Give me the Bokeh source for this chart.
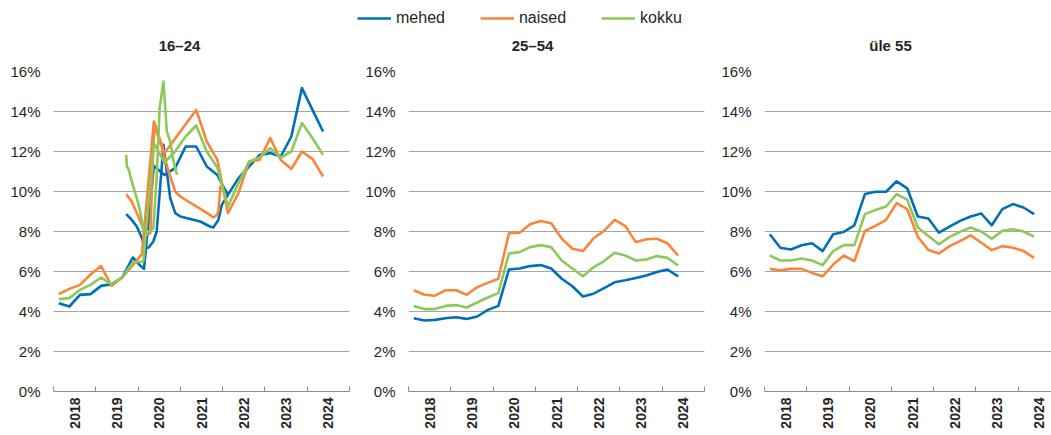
import math
from bokeh.plotting import figure
from bokeh.layouts import column, row
from bokeh.models import (FixedTicker, Legend, LegendItem, CustomJSTickFormatter, Range1d, Label)
from bokeh.embed import file_html
from bokeh.resources import INLINE

# ---------------- data ----------------
series_names = ["mehed", "naised", "kokku"]
colors = ["#0070B8", "#F7863A", "#8CC85A"]
panel_titles = ["16–24", "25–54", "üle 55"]
year_labels = ["2018", "2019", "2020", "2021", "2022", "2023", "2024"]
y_tick_values = [0, 2, 4, 6, 8, 10, 12, 14, 16]

quarters = ["2018Q1", "2018Q2", "2018Q3", "2018Q4", "2019Q1", "2019Q2", "2019Q3", "2019Q4",
            "2020Q1", "2020Q2", "2020Q3", "2020Q4", "2021Q1", "2021Q2", "2021Q3", "2021Q4",
            "2022Q1", "2022Q2", "2022Q3", "2022Q4", "2023Q1", "2023Q2", "2023Q3", "2023Q4",
            "2024Q1", "2024Q2"]

# 16-24 (irregular dates in fractional years, two pieces per series)
y1624_men_a_x = [2018.125, 2018.375, 2018.625, 2018.875, 2019.125, 2019.375, 2019.625, 2019.875,
                 2020.05, 2020.14, 2020.375, 2020.625, 2020.875, 2021.125, 2021.375, 2021.625,
                 2021.875, 2022.0, 2022.125, 2022.375, 2022.625, 2022.875, 2023.125, 2023.375,
                 2023.625, 2023.875, 2024.125, 2024.375]
y1624_men_a_y = [4.41, 4.25, 4.83, 4.87, 5.28, 5.37, 5.7, 6.7,
                 6.3, 6.13, 11.28, 10.83, 11.17, 12.25, 12.25, 11.25,
                 10.83, 10.3, 9.83, 10.67, 11.25, 11.83, 11.92, 11.75,
                 12.75, 15.17, 14.08, 13.0]
y1624_men_b_x = [2019.72, 2019.85, 2019.97, 2020.09, 2020.16, 2020.25, 2020.36, 2020.44, 2020.60,
                 2020.68, 2020.76, 2020.88, 2021.0, 2021.47, 2021.70, 2021.78, 2021.82, 2021.90,
                 2021.98, 2022.125]
y1624_men_b_y = [8.87, 8.58, 8.25, 7.67, 7.17, 7.2, 7.5, 8.0, 12.33,
                 11.0, 9.67, 8.92, 8.75, 8.5, 8.25, 8.2, 8.33, 8.58,
                 9.33, 9.83]

y1624_women_a_x = [2018.125, 2018.375, 2018.625, 2018.875, 2019.125, 2019.375, 2019.625, 2019.875,
                   2020.09, 2020.375, 2020.625, 2020.875, 2021.125, 2021.375, 2021.625, 2021.875,
                   2022.125, 2022.375, 2022.625, 2022.875, 2023.125, 2023.375, 2023.625, 2023.875,
                   2024.125, 2024.375]
y1624_women_a_y = [4.87, 5.13, 5.33, 5.85, 6.27, 5.28, 5.7, 6.32,
                   6.87, 13.5, 11.92, 12.64, 13.36, 14.08, 12.5, 11.58,
                   8.92, 9.92, 11.5, 11.58, 12.67, 11.58, 11.13, 12.0,
                   11.63, 10.75]
y1624_women_b_x = [2019.72, 2019.85, 2019.97, 2020.09, 2020.17, 2020.29, 2020.38, 2020.55, 2020.72,
                   2020.88, 2021.0, 2021.70, 2021.78, 2021.85, 2021.90, 2021.95]
y1624_women_b_y = [9.87, 9.5, 8.92, 8.33, 7.8, 7.92, 13.3, 12.3, 11.0,
                   10.0, 9.75, 8.83, 8.7, 8.8, 9.0, 10.3]

y1624_total_a_x = [2018.125, 2018.375, 2018.625, 2018.875, 2019.125, 2019.375, 2019.625, 2019.875,
                   2020.125, 2020.375, 2020.625, 2020.875, 2021.125, 2021.375, 2021.625, 2021.875,
                   2022.125, 2022.375, 2022.625, 2022.875, 2023.125, 2023.375, 2023.625, 2023.875,
                   2024.125, 2024.375]
y1624_total_a_y = [4.62, 4.67, 5.08, 5.33, 5.7, 5.35, 5.7, 6.45,
                   6.5, 12.42, 11.45, 12.0, 12.75, 13.3, 12.0, 11.2,
                   9.25, 10.42, 11.5, 11.7, 12.17, 11.7, 12.0, 13.42,
                   12.67, 11.83]
y1624_total_b_x = [2019.72, 2019.735, 2019.78, 2019.85, 2019.97, 2020.05, 2020.13, 2020.25, 2020.36,
                   2020.44, 2020.51, 2020.60, 2020.68, 2020.76, 2020.84, 2020.92]
y1624_total_b_y = [11.83, 11.25, 11.1, 10.5, 9.67, 9.0, 8.0, 8.0, 8.17,
                   10.67, 14.17, 15.5, 13.0, 12.5, 11.5, 10.83]

# 25-54 (quarterly)
y2554_men = [3.66, 3.55, 3.58, 3.66, 3.71, 3.63, 3.75, 4.08, 4.28, 6.10, 6.15, 6.27, 6.32,
             6.15, 5.64, 5.26, 4.75, 4.89, 5.17, 5.46, 5.56, 5.68, 5.80, 5.98, 6.10, 5.76]
y2554_women = [5.06, 4.84, 4.79, 5.06, 5.06, 4.84, 5.22, 5.43, 5.64, 7.91, 7.94, 8.36, 8.53,
               8.41, 7.64, 7.14, 7.02, 7.66, 8.03, 8.58, 8.28, 7.47, 7.61, 7.64, 7.41, 6.80]
y2554_total = [4.28, 4.12, 4.12, 4.28, 4.32, 4.20, 4.45, 4.70, 4.92, 6.90, 6.97, 7.22, 7.32,
               7.22, 6.55, 6.15, 5.76, 6.21, 6.52, 6.94, 6.80, 6.55, 6.60, 6.77, 6.68, 6.30]

# 55+ (quarterly)
y55_men = [7.86, 7.19, 7.10, 7.31, 7.41, 7.02, 7.86, 7.98, 8.31, 9.87, 9.99, 9.99, 10.51,
           10.16, 8.75, 8.65, 7.94, 8.24, 8.53, 8.75, 8.90, 8.31, 9.12, 9.37, 9.20, 8.87]
y55_women = [6.13, 6.06, 6.13, 6.13, 5.93, 5.76, 6.35, 6.80, 6.52, 8.03, 8.28, 8.58, 9.42,
             9.12, 7.74, 7.07, 6.90, 7.27, 7.52, 7.81, 7.44, 7.07, 7.27, 7.19, 7.02, 6.68]
y55_total = [6.80, 6.55, 6.55, 6.65, 6.55, 6.32, 7.02, 7.32, 7.32, 8.87, 9.08, 9.25, 9.87,
             9.59, 8.20, 7.78, 7.36, 7.73, 7.98, 8.20, 8.00, 7.64, 8.03, 8.11, 8.00, 7.74]

# ---------------- helpers ----------------
FONT = "Liberation Sans"
TEXT_COLOR = "#262626"
GRID_COLOR = "#a6a6a6"
LW = 2.6
YEAR_PX = 296 / 7.0
HEADER_H = 60


def quarter_to_x(qs):
    return [int(q[:4]) + (int(q[5]) - 0.5) / 4.0 for q in qs]


qx = quarter_to_x(quarters)
first_year = int(year_labels[0])
last_year = int(year_labels[-1]) + 1


def make_panel(left_border, frame_w, right_border):
    x_end = first_year + frame_w / YEAR_PX
    p = figure(frame_width=frame_w, frame_height=320,
               min_border_left=left_border, min_border_right=right_border,
               min_border_top=11, min_border_bottom=43,
               x_range=Range1d(first_year, x_end), y_range=Range1d(0, 16),
               output_backend="svg", toolbar_location=None)
    p.outline_line_color = None
    p.background_fill_color = "white"
    p.border_fill_color = "white"

    # x axis
    xa = p.xaxis[0]
    xa.ticker = FixedTicker(ticks=[y + 0.5 for y in range(first_year, last_year)],
                            minor_ticks=list(range(first_year, last_year + 1)))
    xa.formatter = CustomJSTickFormatter(code="return Math.floor(tick).toFixed(0);")
    xa.major_label_orientation = math.pi / 2
    xa.major_label_text_font = FONT
    xa.major_label_text_font_size = "14px"
    xa.major_label_text_font_style = "bold"
    xa.major_label_text_color = TEXT_COLOR
    xa.major_label_standoff = 6
    xa.major_tick_line_color = None
    xa.major_tick_in = 0
    xa.major_tick_out = 0
    xa.minor_tick_in = 5
    xa.minor_tick_out = 0
    xa.minor_tick_line_color = "#8c8c8c"
    xa.axis_line_color = "#8c8c8c"

    # y axis
    ya = p.yaxis[0]
    ya.ticker = FixedTicker(ticks=y_tick_values, minor_ticks=[])
    ya.formatter = CustomJSTickFormatter(code="return tick.toFixed(0) + '%';")
    ya.major_label_text_font = FONT
    ya.major_label_text_font_size = "15px"
    ya.major_label_text_color = TEXT_COLOR
    ya.major_label_standoff = 7
    ya.axis_line_color = None
    ya.major_tick_line_color = None
    ya.minor_tick_line_color = None

    p.xgrid.grid_line_color = None
    p.ygrid.ticker = FixedTicker(ticks=y_tick_values[1:])
    p.ygrid.grid_line_color = GRID_COLOR
    p.ygrid.grid_line_width = 1
    return p


def draw(p, xs, ys, color):
    p.line(xs, ys, line_color=color, line_width=LW, line_join="round")


# panel 1
p1 = make_panel(53, 296, 5)
draw(p1, y1624_men_a_x, y1624_men_a_y, colors[0])
draw(p1, y1624_men_b_x, y1624_men_b_y, colors[0])
draw(p1, y1624_women_a_x, y1624_women_a_y, colors[1])
draw(p1, y1624_women_b_x, y1624_women_b_y, colors[1])
draw(p1, y1624_total_a_x, y1624_total_a_y, colors[2])
draw(p1, y1624_total_b_x, y1624_total_b_y, colors[2])

# panel 2
p2 = make_panel(54, 296, 5)
draw(p2, qx, y2554_men, colors[0])
draw(p2, qx, y2554_women, colors[1])
draw(p2, qx, y2554_total, colors[2])

# panel 3 (right part cut by the window edge)
p3 = make_panel(55, 287, 0)
draw(p3, qx, y55_men, colors[0])
draw(p3, qx, y55_women, colors[1])
draw(p3, qx, y55_total, colors[2])

# header strip: legend + panel titles
pl = figure(width=1051, height=HEADER_H, x_range=Range1d(0, 1), y_range=Range1d(0, 1),
            output_backend="svg", toolbar_location=None,
            min_border_left=0, min_border_right=0, min_border_top=0, min_border_bottom=0)
pl.axis.visible = False
pl.grid.visible = False
pl.outline_line_color = None
items = []
for name, c in zip(series_names, colors):
    r = pl.line(x=[-10, -9], y=[-10, -9], line_color=c, line_width=LW)
    items.append(LegendItem(label=name, renderers=[r]))
leg = Legend(items=items, orientation="horizontal", location=(357, HEADER_H - 28),
             glyph_width=34, glyph_height=20, label_standoff=5, spacing=35,
             padding=0, margin=0, border_line_color=None, background_fill_alpha=0,
             label_text_font=FONT, label_text_font_size="16px", label_text_color=TEXT_COLOR)
pl.add_layout(leg)

title_centers = [179, 532, 890]
for t, cx in zip(panel_titles, title_centers):
    pl.add_layout(Label(x=cx, y=HEADER_H - 45, x_units="screen", y_units="screen", text=t,
                        text_align="center", text_baseline="middle", text_font=FONT,
                        text_font_size="15px", text_font_style="bold", text_color=TEXT_COLOR))

layout = column(pl, row(p1, p2, p3, spacing=0), spacing=0)

open("out.html", "w").write(file_html(layout, INLINE))
